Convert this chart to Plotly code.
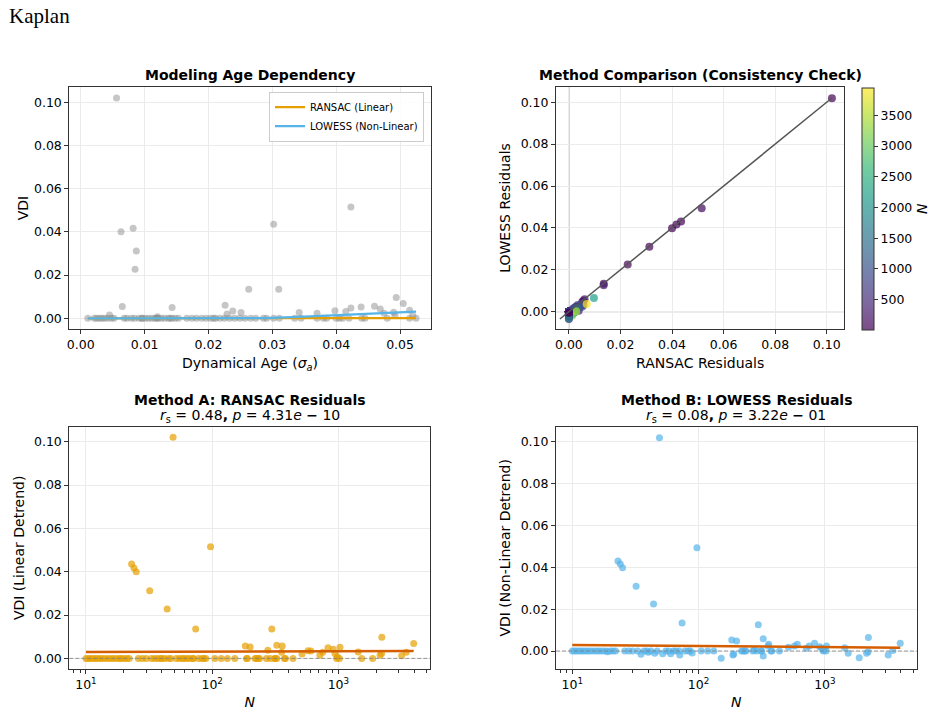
import plotly.graph_objects as go
from plotly.colors import sequential, hex_to_rgb

# ---------------- data ----------------
N = [49, 97, 23, 24, 25, 32, 44, 74, 297,
     183, 200, 276, 325, 359, 355, 515, 575, 605, 714, 752, 828, 910, 940, 980,
     1030, 1435, 2140, 2210, 2200, 3170, 3450, 3950,
     10, 10.4, 10.8, 11.3, 11.8, 12.3, 12.9, 13.5, 14.2, 15,
     15.8, 16.6, 17.5, 18.5, 20, 21, 22, 26, 28, 30,
     33, 37, 39, 42, 47, 55, 58, 63, 66, 70,
     78, 83, 86, 105, 118, 132, 219, 225, 232, 237,
     269, 288, 313, 316, 374, 380, 437, 970, 1020,
     35, 45, 52, 60, 71, 89, 151, 187, 190, 325, 1530, 1870, 19, 40]

age = [0.0056, 0.0423, 0.0302, 0.0082, 0.0063, 0.0087, 0.0085, 0.0263, 0.0310,
       0.0065, 0.0143, 0.0515, 0.0226, 0.0460, 0.0251, 0.0229, 0.0398, 0.0238, 0.0045,
       0.0342, 0.0423, 0.0469, 0.0370, 0.0120, 0.0439, 0.0415, 0.0492, 0.0494, 0.0475,
       0.0520, 0.0490, 0.0505,
       0.0011, 0.0021, 0.0025, 0.0029, 0.0033, 0.0037, 0.0042, 0.0048, 0.0052, 0.0068,
       0.0072, 0.0079, 0.0084, 0.0091, 0.0096, 0.0101, 0.0106, 0.0111, 0.0116, 0.0121,
       0.0126, 0.0131, 0.0137, 0.0143, 0.0148, 0.0153, 0.0166, 0.0174, 0.0181, 0.0189,
       0.0196, 0.0203, 0.0211, 0.0218, 0.0225, 0.0233, 0.0241, 0.0249, 0.0257, 0.0266,
       0.0274, 0.0286, 0.0291, 0.0302, 0.0311, 0.0096, 0.0119, 0.0140, 0.0208,
       0.0420, 0.0380, 0.0400, 0.0405, 0.0440, 0.0370, 0.0525, 0.0445, 0.0410, 0.0480,
       0.0385, 0.0515, 0.0335, 0.0345]

vdi = [0.1020, 0.0515, 0.0435, 0.0417, 0.0400, 0.0312, 0.0227, 0.0134, 0.0134,
       0.0055, 0.0050, 0.0037, 0.0060, 0.0056, 0.0027, 0.0020, 0.0035, 0.0034, 0.0015,
       0.0027, 0.0048, 0.0043, 0.0023, 0.0007, 0.0052, 0.0031, 0.0014, 0.0096, 0.0023,
       0.0012, 0.0028, 0.0068,
       0.0, 0.0, 0.0, 0.0, 0.0, 0.0, 0.0, 0.0, 0.0, 0.0,
       0.0, 0.0, 0.0, 0.0, 0.0, 0.0, 0.0, 0.0, 0.0, 0.0,
       0.0, 0.0, 0.0, 0.0, 0.0, 0.0, 0.0, 0.0, 0.0, 0.0,
       0.0, 0.0, 0.0, 0.0, 0.0, 0.0, 0.0, 0.0, 0.0, 0.0,
       0.0, 0.0, 0.0, 0.0, 0.0, 0.0, 0.0, 0.0, 0.0,
       0.0, 0.0, 0.0, 0.0, 0.0, 0.0, 0.0, 0.0, 0.0, 0.0, 0.0, 0.0, 0.0, 0.0]

ransac_res = [0.1020, 0.0515, 0.0435, 0.0417, 0.0400, 0.0312, 0.0228, 0.0135, 0.0135,
              0.0057, 0.0052, 0.0038, 0.0061, 0.0057, 0.0028, 0.0020, 0.0035, 0.0034, 0.0015,
              0.0028, 0.0049, 0.0042, 0.0023, 0.0007, 0.0051, 0.0030, 0.0015, 0.0097, 0.0023,
              0.0012, 0.0028, 0.0069,
              0.0, 0.0, 0.0, 0.0, 0.0, 0.0, 0.0, 0.0, 0.0, 0.0,
              0.0, 0.0, 0.0, 0.0, 0.0, 0.0, 0.0, 0.0, 0.0, 0.0,
              0.0, 0.0, 0.0, 0.0, 0.0, 0.0, 0.0, 0.0, 0.0, 0.0,
              0.0, 0.0, 0.0, 0.0, 0.0, 0.0, 0.0, 0.0, 0.0, 0.0,
              0.0, 0.0, 0.0, 0.0, 0.0, 0.0, 0.0, 0.0, 0.0,
              0.0, 0.0, 0.0, 0.0, 0.0, 0.0, 0.0, 0.0, 0.0, 0.0, 0.0, 0.0, 0.0, 0.0]

lowess_res = [0.1019, 0.0494, 0.0430, 0.0416, 0.0398, 0.0310, 0.0225, 0.0134, 0.0126,
              0.0053, 0.0048, 0.0005, 0.0059, 0.0032, 0.0024, 0.0018, 0.0024, 0.0032, 0.0013,
              0.0024, 0.0037, 0.0020, 0.0013, 0.0005, 0.0024, 0.0016, -0.0011, 0.0065, -0.0003,
              -0.0019, 0.0002, 0.0037,
              0.0, 0.0, 0.0, 0.0, 0.0, 0.0, 0.0, 0.0, 0.0, 0.0,
              0.0, 0.0, 0.0, 0.0, 0.0, 0.0, 0.0, 0.0, 0.0, 0.0,
              0.0, 0.0, 0.0, 0.0, 0.0, 0.0, 0.0, 0.0, 0.0, 0.0,
              0.0, 0.0, 0.0, 0.0, 0.0, 0.0, 0.0, 0.0, 0.0, 0.0,
              0.0, 0.0, 0.0, 0.0, 0.0, 0.0, 0.0, 0.0, 0.0,
              -0.0016, -0.0011, -0.0013, -0.0013, -0.0019, -0.0010, -0.0035, -0.0019, -0.0014,
              -0.0024, -0.0011, -0.0032, -0.0004, -0.0006]

fit_age = [0.0011, 0.0525]
ransac_fit = [0.0000, 0.0001]
lowess_age = [0.0011, 0.0100, 0.0200, 0.0290, 0.0350, 0.0400, 0.0450, 0.0500, 0.0525]
lowess_fit = [0.0, 0.0, 0.0, 0.0001, 0.0008, 0.0014, 0.0020, 0.0027, 0.0031]
trend_N = [10, 3950]
trend_ransac = [0.0029, 0.0034]
trend_lowess = [0.0029, 0.0016]
diag = [-0.0035, 0.102]
cbar_ticks = [500, 1000, 1500, 2000, 2500, 3000, 3500]
log_ticks = [10, 100, 1000]
log_ticktext = ["10<sup>1</sup>", "10<sup>2</sup>", "10<sup>3</sup>"]
log_minor = [2, 3, 4, 5, 6, 7, 8, 9, 20, 30, 40, 50, 60, 70, 80, 90,
             200, 300, 400, 500, 600, 700, 800, 900, 2000, 3000, 4000, 5000]

# ---------------- styling ----------------
W, H = 937, 712
FONT = "DejaVu Sans"
TICK = 12.5
LAB = 14
ORANGE = "#E69F00"
BLUE = "#56B4E9"
VERM = "#D55E00"
FRAME = "#333333"
GRID = "#ebebeb"
CMIN, CMAX = 10, 3950

# viridis as seen through alpha 0.7 on white (for the colorbar)
_vir = sequential.Viridis
faded_viridis = []
for i, c in enumerate(_vir):
    r, g, b = hex_to_rgb(c)
    faded_viridis.append([i / (len(_vir) - 1),
                          "rgb(%d,%d,%d)" % (0.7 * r + 76.5, 0.7 * g + 76.5, 0.7 * b + 76.5)])


def dom_x(a, b):
    return [a / W, b / W]


def dom_y(top, bottom):
    return [1 - bottom / H, 1 - top / H]


fig = go.Figure()

# Panel 1: Modeling Age Dependency
fig.add_trace(go.Scatter(x=age, y=vdi, mode="markers", xaxis="x", yaxis="y",
                         marker=dict(color="gray", opacity=0.45, size=7, line=dict(width=0)),
                         showlegend=False))
fig.add_trace(go.Scatter(x=fit_age, y=ransac_fit, mode="lines", xaxis="x", yaxis="y",
                         line=dict(color=ORANGE, width=2.2), name="RANSAC (Linear)"))
fig.add_trace(go.Scatter(x=lowess_age, y=lowess_fit, mode="lines", xaxis="x", yaxis="y",
                         line=dict(color=BLUE, width=2.2), name="LOWESS (Non-Linear)"))

# Panel 2: Method Comparison
fig.add_trace(go.Scatter(x=ransac_res, y=lowess_res, mode="markers", xaxis="x2", yaxis="y2",
                         marker=dict(color=N, colorscale="Viridis", cmin=CMIN, cmax=CMAX,
                                     opacity=0.7, size=8, line=dict(width=0), showscale=False),
                         showlegend=False))
fig.add_trace(go.Scatter(x=diag, y=diag, mode="lines", xaxis="x2", yaxis="y2",
                         line=dict(color="#555555", width=1.5), showlegend=False))
# colorbar carrier (no visible points)
fig.add_trace(go.Scatter(x=[None], y=[None], mode="markers", xaxis="x2", yaxis="y2",
                         marker=dict(color=[CMIN], colorscale=faded_viridis, cmin=CMIN, cmax=CMAX,
                                     showscale=True,
                                     colorbar=dict(thickness=12, thicknessmode="pixels",
                                                   len=241.6, lenmode="pixels",
                                                   x=862.3 / W, xanchor="left", xpad=0,
                                                   y=1 - 87.7 / H, yanchor="top", ypad=0,
                                                   outlinewidth=1, outlinecolor=FRAME,
                                                   tickvals=cbar_ticks, ticks="outside",
                                                   ticklen=4, tickcolor=FRAME,
                                                   tickfont=dict(family=FONT, size=TICK, color="black"),
                                                   title=dict(text="<i>N</i>", side="right",
                                                              font=dict(family=FONT, size=LAB)))),
                         showlegend=False, hoverinfo="skip"))

# Panel 3: RANSAC residuals vs N
fig.add_trace(go.Scatter(x=N, y=ransac_res, mode="markers", xaxis="x3", yaxis="y3",
                         marker=dict(color=ORANGE, opacity=0.7, size=7, line=dict(width=0)),
                         showlegend=False))
fig.add_trace(go.Scatter(x=trend_N, y=trend_ransac, mode="lines", xaxis="x3", yaxis="y3",
                         line=dict(color=VERM, width=2.5), showlegend=False))

# Panel 4: LOWESS residuals vs N
fig.add_trace(go.Scatter(x=N, y=lowess_res, mode="markers", xaxis="x4", yaxis="y4",
                         marker=dict(color=BLUE, opacity=0.7, size=7, line=dict(width=0)),
                         showlegend=False))
fig.add_trace(go.Scatter(x=trend_N, y=trend_lowess, mode="lines", xaxis="x4", yaxis="y4",
                         line=dict(color=VERM, width=2.5), showlegend=False))


def axis(domain, rng, title, anchor, standoff=6, **kw):
    d = dict(domain=domain, range=rng, anchor=anchor, automargin=False,
             showline=True, linecolor=FRAME, linewidth=1, mirror=True,
             ticks="outside", ticklen=4, tickcolor=FRAME, tickwidth=1,
             showgrid=True, gridcolor=GRID, gridwidth=1, zeroline=False,
             tickfont=dict(family=FONT, size=TICK, color="black"),
             title=dict(text=title, font=dict(family=FONT, size=LAB, color="black"), standoff=standoff))
    d.update(kw)
    return d


minor_log = dict(ticks="outside", ticklen=2.5, tickcolor=FRAME, tickvals=log_minor, showgrid=False)

fig.update_layout(
    width=W, height=H, margin=dict(l=0, r=0, t=0, b=0, autoexpand=False),
    template="none", paper_bgcolor="white", plot_bgcolor="white",
    font=dict(family=FONT, color="black"),
    xaxis=axis(dom_x(69.3, 430.7), [-0.0018, 0.0548], "Dynamical Age (<i>σ</i><sub><i>a</i></sub>)", "y",
               dtick=0.01, tick0=0, tickformat=".2f"),
    yaxis=axis(dom_y(86.7, 329.3), [-0.0051, 0.1072], "VDI", "x", standoff=2,
               dtick=0.02, tick0=0, tickformat=".2f"),
    xaxis2=axis(dom_x(556, 844.3), [-0.0050, 0.1068], "RANSAC Residuals", "y2",
                dtick=0.02, tick0=0, tickformat=".2f"),
    yaxis2=axis(dom_y(86.7, 329.3), [-0.0084, 0.1074], "LOWESS Residuals", "x2",
                dtick=0.02, tick0=0, tickformat=".2f"),
    xaxis3=axis(dom_x(69.3, 430), [0.868, 3.726], "<i>N</i>", "y3", type="log",
                tickvals=log_ticks, ticktext=log_ticktext, minor=minor_log),
    yaxis3=axis(dom_y(426.7, 669), [-0.0049, 0.1069], "VDI (Linear Detrend)", "x3",
                dtick=0.02, tick0=0, tickformat=".2f"),
    xaxis4=axis(dom_x(556, 916.7), [0.871, 3.727], "<i>N</i>", "y4", type="log",
                tickvals=log_ticks, ticktext=log_ticktext, minor=minor_log),
    yaxis4=axis(dom_y(426.7, 669), [-0.0086, 0.1072], "VDI (Non-Linear Detrend)", "x4",
                dtick=0.02, tick0=0, tickformat=".2f"),
    legend=dict(x=424 / W, y=1 - 91.7 / H, xanchor="right", yanchor="top",
                bgcolor="rgba(255,255,255,0.85)", bordercolor="#cccccc", borderwidth=1,
                font=dict(family=FONT, size=10, color="black"), itemwidth=30,
                tracegroupgap=0),
    showlegend=True,
)

shapes = [
    dict(type="line", xref="x2", yref="y2 domain", x0=0, x1=0, y0=0, y1=1,
         line=dict(color="rgba(128,128,128,0.6)", width=1.3), layer="below"),
    dict(type="line", xref="x2 domain", yref="y2", x0=0, x1=1, y0=0, y1=0,
         line=dict(color="rgba(128,128,128,0.6)", width=1.3), layer="below"),
    dict(type="line", xref="x3 domain", yref="y3", x0=0, x1=1, y0=0, y1=0,
         line=dict(color="rgba(128,128,128,0.8)", width=1, dash="4px,2px")),
    dict(type="line", xref="x4 domain", yref="y4", x0=0, x1=1, y0=0, y1=0,
         line=dict(color="rgba(128,128,128,0.8)", width=1, dash="4px,2px")),
]
fig.update_layout(shapes=shapes)


def ann(text, x, y, size=LAB, family=FONT, xanchor="center"):
    return dict(text=text, x=x / W, y=1 - y / H, xref="paper", yref="paper",
                xanchor=xanchor, yanchor="middle", showarrow=False,
                font=dict(family=family, size=size, color="black"))


annotations = [
    ann("Kaplan", 7, 16, size=21, family="Liberation Serif", xanchor="left"),
    ann("<b>Modeling Age Dependency</b>", 250, 75),
    ann("<b>Method Comparison (Consistency Check)</b>", 700, 75),
    ann("<b>Method A: RANSAC Residuals</b>", 249.7, 399.5),
    ann("<i>r</i><sub>s</sub> = 0.48<b>,</b> <i>p</i> = 4.31<i>e</i> <b>−</b> 10", 249.7, 416),
    ann("<b>Method B: LOWESS Residuals</b>", 736.3, 399.5),
    ann("<i>r</i><sub>s</sub> = 0.08<b>,</b> <i>p</i> = 3.22<i>e</i> <b>−</b> 01", 736.3, 416),
]
fig.update_layout(annotations=annotations)

fig.write_html("out.html")
